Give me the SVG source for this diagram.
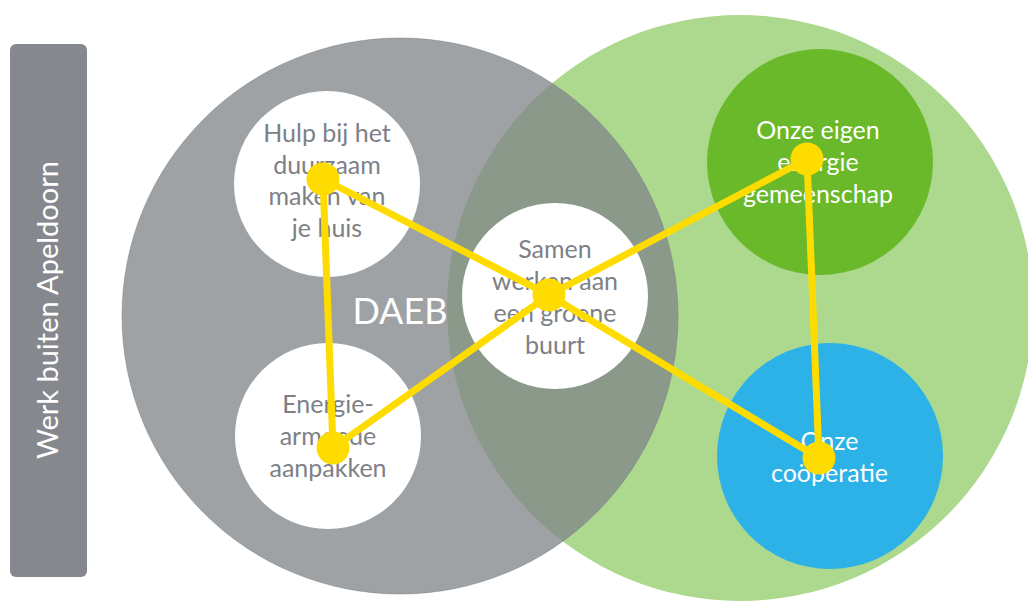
<svg xmlns="http://www.w3.org/2000/svg" width="1028" height="601" viewBox="0 0 1028 601">
<style>
.t{font-family:Lato,"Gill Sans","Liberation Sans",sans-serif;font-size:25px;text-anchor:middle}
.big{font-size:36px}
.side{font-size:29px}
.g{fill:#7d8186}
.w{fill:#ffffff}
.lnk{stroke:#ffdc00;stroke-width:7;stroke-linecap:round;fill:none}
.dot{fill:#ffdc00}
</style>
<rect width="1028" height="601" fill="#ffffff"/>
<g id="bar">
<rect x="10" y="44" width="77" height="533" rx="6" fill="#85898d"/>
<text class="t w side" transform="translate(58 310) rotate(-90)">Werk buiten Apeldoorn</text>
</g>
<g id="green-area">
<circle cx="740" cy="308" r="293" fill="#acd98e"/>
</g>
<g id="daeb-area">
<circle cx="400" cy="316" r="278" fill="#7f8387" fill-opacity="0.75" stroke="#7c8084" stroke-opacity="0.5" stroke-width="1"/>
<text class="t w big" x="400" y="324">DAEB</text>
</g>
<g id="hulp">
<circle cx="327" cy="184" r="93" fill="#ffffff"/>
<text class="t g" x="327" y="142">Hulp bij het</text>
<text class="t g" x="327" y="173.5">duurzaam</text>
<text class="t g" x="327" y="205">maken van</text>
<text class="t g" x="327" y="236.5">je huis</text>
</g>
<g id="energie">
<circle cx="328" cy="436" r="93" fill="#ffffff"/>
<text class="t g" x="328" y="413">Energie-</text>
<text class="t g" x="328" y="445">armoede</text>
<text class="t g" x="328" y="477">aanpakken</text>
</g>
<g id="samen">
<circle cx="555" cy="296" r="93" fill="#ffffff"/>
<text class="t g" x="555" y="258">Samen</text>
<text class="t g" x="555" y="290">werken aan</text>
<text class="t g" x="555" y="322">een groene</text>
<text class="t g" x="555" y="353.5">buurt</text>
</g>
<g id="gemeenschap">
<circle cx="820" cy="162" r="113" fill="#69b92a"/>
<text class="t w" x="818" y="139">Onze eigen</text>
<text class="t w" x="818" y="171">energie</text>
<text class="t w" x="818" y="203">gemeenschap</text>
</g>
<g id="cooperatie">
<circle cx="830" cy="456" r="113" fill="#2cb2e6"/>
<text class="t w" x="829.5" y="450">Onze</text>
<text class="t w" x="829.5" y="482">coöperatie</text>
</g>
<g id="connectors">
<line class="lnk" x1="323" y1="179" x2="333" y2="448"/>
<line class="lnk" x1="323" y1="179" x2="549" y2="295"/>
<line class="lnk" x1="333" y1="448" x2="549" y2="295"/>
<line class="lnk" x1="549" y1="295" x2="807" y2="159"/>
<line class="lnk" x1="549" y1="295" x2="819" y2="458"/>
<line class="lnk" x1="807" y1="159" x2="819" y2="458"/>
<circle class="dot" cx="323" cy="179" r="16.5"/>
<circle class="dot" cx="333" cy="448" r="16.5"/>
<circle class="dot" cx="549" cy="295" r="16.5"/>
<circle class="dot" cx="807" cy="159" r="16.5"/>
<circle class="dot" cx="819" cy="458" r="16.5"/>
</g>
</svg>
